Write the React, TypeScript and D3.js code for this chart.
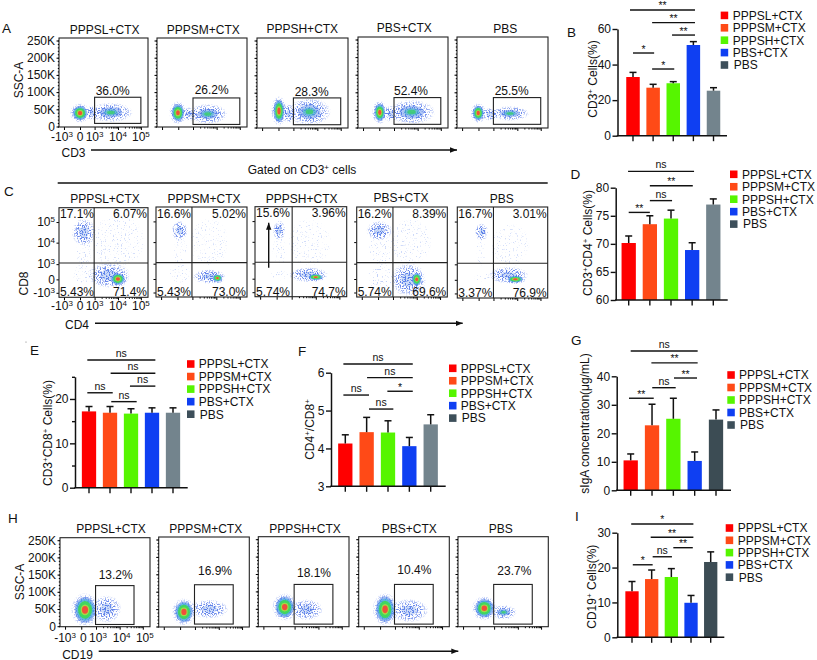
import { useEffect, useRef } from 'react';
import * as d3 from 'd3';

// groups and colours
const groups = ['PPPSL+CTX', 'PPPSM+CTX', 'PPPSH+CTX', 'PBS+CTX', 'PBS'];
const barColors = ['#ff0000', '#ff4a17', '#56f500', '#0f3ff2'];

// bar panels, values
const cd3Values = [33, 27, 29.5, 51, 25.3];
const cd3Errors = [35.6, 28.9, 30.4, 52.9, 27];
const cd3Sig = [[-0.15, 3.08, 70.7, '**'], [0.95, 3.08, 63.6, '**'], [1.94, 3.08, 56.6, '**'], [0, 1.05, 46.5, '*'], [0.95, 2.05, 37.5, '*']];

const cd4Values = [70.15, 73.5, 74.5, 68.9, 77];
const cd4Errors = [71.4, 75, 76, 70.2, 78];
const cd4Sig = [[-0.03, 3.09, 82.9, 'ns'], [1, 3.03, 80.35, '**'], [1, 2.05, 77.7, 'ns'], [0, 1, 75.6, '**']];

const cd8Values = [17.2, 16.9, 16.7, 16.9, 16.9];
const cd8Errors = [18.3, 18.3, 17.8, 18, 18];
const cd8Sig = [[-0.08, 3.16, 28.8, 'ns'], [1.03, 3.16, 25.8, 'ns'], [1.95, 3.16, 22.9, 'ns'], [-0.08, 1.13, 21.4, 'ns'], [1.06, 2.27, 19.4, 'ns']];

const ratioValues = [4.13, 4.43, 4.42, 4.06, 4.635];
const ratioErrors = [4.36, 4.82, 4.73, 4.29, 4.89];
const ratioSig = [[-0.09, 3.16, 6.23, 'ns'], [1.02, 3.16, 5.87, 'ns'], [1.97, 3.16, 5.51, '*'], [-0.09, 1.11, 5.41, 'ns'], [1.11, 2.25, 5.04, 'ns']];

const sigaValues = [10.5, 22.8, 25.1, 10.3, 24.8];
const sigaErrors = [12.75, 30.2, 32.3, 13.45, 28.2];
const sigaSig = [[0, 3.14, 48.9, 'ns'], [0.97, 3.14, 44.7, '**'], [2.03, 3.11, 39.4, '**'], [1.01, 2.11, 36, 'ns'], [-0.08, 1.08, 32.3, '**']];

const cd19Values = [13.2, 16.7, 17.3, 9.9, 21.6];
const cd19Errors = [16, 19.3, 19.7, 12, 24.5];
const cd19Sig = [[-0.04, 3.12, 32.5, '*'], [0.95, 3.12, 28.7, '**'], [2.1, 3.09, 25.7, '**'], [1.05, 2.03, 23.1, 'ns'], [0.04, 1.05, 20.8, '*']];

// flow plots: percentages
const cd3Pct = ['36.0%', '26.2%', '28.3%', '52.4%', '25.5%'];
const cd19Pct = ['13.2%', '16.9%', '18.1%', '10.4%', '23.7%'];
const quadTL = ['17.1%', '16.6%', '15.6%', '16.2%', '16.7%'];
const quadTR = ['6.07%', '5.02%', '3.96%', '8.39%', '3.01%'];
const quadBL = ['5.43%', '5.43%', '5.74%', '5.74%', '3.37%'];
const quadBR = ['71.4%', '73.0%', '74.7%', '69.6%', '76.9%'];

// gates in axis units: x0, x1 (decades), y0, y1 (K)
const cd3Gates = [[1, 3, 9, 85], [1, 3, 6, 83], [1, 3, 8, 85], [1, 3, 9, 85], [1, 3, 9, 85]];
const cd19Gates = [[0.97, 2.62, 5, 118], [0.97, 2.62, 7, 120], [0.97, 2.62, 6, 120], [0.97, 2.62, 6, 120], [0.97, 2.62, 6, 120]];
const quadCuts = [[0.97, 1.05], [0.97, 1.05], [1.02, 1.05], [1, 1.05], [1, 1.05]];

// population clouds: x0, x1, y0, y1 in axis units, peak density 0..1
const cd3Clouds = [
  [[-0.45, 0.5, 18, 60, 1], [1, 2.4, 20, 62, 0.55], [0.5, 1.1, 25, 55, 0.22]],
  [[-0.4, 0.4, 15, 65, 1], [1, 2.25, 15, 58, 0.5], [0.4, 1.1, 22, 50, 0.22]],
  [[-0.3, 0.4, 15, 80, 1], [1, 2.35, 15, 75, 0.5], [0.4, 1, 20, 60, 0.22]],
  [[-0.3, 0.4, 18, 68, 1], [1, 2.5, 18, 70, 0.7], [0.4, 1.1, 22, 55, 0.2]],
  [[-0.35, 0.35, 20, 62, 1], [1.1, 2.3, 25, 55, 0.55], [0.35, 1.1, 25, 50, 0.2]],
];
const cd4Cd8Clouds = [
  [[-0.3, 0.85, 2, 3, 0.3], [-0.2, 0.7, 1, 2.1, 0.08], [1, 3, 1, 3.2, 0.07], [-0.4, 0.8, -0.2, 0.9, 0.1], [0.9, 2.3, -0.4, 0.9, 0.22], [1.7, 2.3, -0.4, 0.4, 1]],
  [[-0.2, 0.5, 2.2, 2.9, 0.3], [-0.2, 0.6, 1, 2.2, 0.06], [1, 2.4, 1, 3, 0.05], [-0.4, 0.8, -0.2, 0.9, 0.08], [1.2, 2.2, -0.2, 0.5, 0.22], [1.85, 2.25, -0.2, 0.3, 1]],
  [[-0.1, 0.45, 2.2, 2.9, 0.3], [-0.2, 0.6, 1, 2.2, 0.06], [1, 2.5, 1, 3, 0.05], [-0.3, 0.9, -0.1, 0.5, 0.1], [1.1, 2.3, -0.1, 0.6, 0.22], [1.7, 2.3, -0.1, 0.3, 1]],
  [[-0.5, 0.7, 2.2, 2.9, 0.3], [-0.5, 0.9, 1, 2.3, 0.09], [1, 2.5, 1.1, 3, 0.09], [-0.5, 0.9, -0.8, 0.9, 0.14], [1.1, 2.2, -1, 0.8, 0.25], [1.8, 2.2, -0.5, 0.4, 1]],
  [[-0.1, 0.5, 2.2, 2.8, 0.32], [-0.1, 0.4, 1, 2.2, 0.06], [1, 2.4, 1, 2.8, 0.05], [-0.2, 0.7, -0.1, 0.4, 0.1], [1, 2.25, -0.1, 0.7, 0.22], [1.6, 2.25, -0.2, 0.25, 1]],
];
const cd19Clouds = [
  [[-0.4, 0.95, 10, 85, 1], [1, 1.9, 20, 80, 0.26]],
  [[-0.3, 0.85, 12, 72, 1], [1, 2.2, 30, 70, 0.28]],
  [[-0.25, 0.95, 25, 85, 1], [1, 2, 25, 70, 0.4]],
  [[-0.25, 0.95, 12, 85, 0.9], [1, 2.2, 20, 70, 0.2]],
  [[-0.25, 0.95, 25, 78, 1], [1, 1.8, 25, 55, 0.55]],
];

// log-axis fractions along a plot's width, from -10^3 to 10^5
const decadeTicks = [-1, 0, 1, 2, 3];
const decadeFracs = [0.056, 0.236, 0.4, 0.663, 0.92];
const cd8Fracs = [0.95, 0.8, 0.63, 0.39, 0.16];
const decadeLabels = ['-10^3', '0', '10^3', '10^4', '10^5'];
const sscTicks = [0, 50, 100, 150, 200, 250];

const FONT = '"Liberation Sans", Arial, sans-serif';

const withSup = (el: any, str: string, supSize = 8) => {
  el.text(null);
  str.split(/(\^.)/).filter(Boolean).forEach((part: string, i: number, all: string[]) => {
    const isSup = part[0] === '^';
    const prevSup = i > 0 && all[i - 1][0] === '^';
    const span = el.append('tspan').text(isSup ? part.slice(1) : part);
    if (isSup) span.attr('dy', -4).attr('font-size', supSize);
    else if (prevSup) span.attr('dy', 4);
  });
};

function label(g: any, x: number, y: number, str: string, anchor = 'middle', size = 12) {
  const t = g.append('text').attr('x', x).attr('y', y).attr('text-anchor', anchor)
    .attr('font-size', size).attr('fill', '#111');
  withSup(t, str);
  return t;
}

function cloudLayers(peak: number): [number, string, number][] {
  if (peak >= 0.8) {
    return [[1, '#4f7fe8', 0.55], [0.85, '#3fb0d8', 0.6], [0.68, '#3fd85a', 0.95], [0.42, '#c2df3c', 0.75], [0.3, '#f0503a', 1]];
  }
  if (peak >= 0.45) {
    return [[0.7, '#4f82e8', 0.45], [0.42, '#3fb2c8', 0.6], [0.24, '#3fd070', 0.85]];
  }
  return [[0.55, '#5f8fe8', 0.3]];
}

function drawClouds(g: any, clouds: number[][], xS: any, yS: any) {
  const geo = clouds.map(([x0, x1, y0, y1, peak]) => ({
    cx: (xS(x0) + xS(x1)) / 2, cy: (yS(y0) + yS(y1)) / 2,
    rx: Math.abs(xS(x1) - xS(x0)) / 2, ry: Math.abs(yS(y1) - yS(y0)) / 2, peak,
  }));
  const sparse = g.append('g').attr('filter', 'url(#speckleSparse)');
  const halo = g.append('g').attr('filter', 'url(#speckle)');
  const rings = g.append('g').attr('filter', 'url(#soft)');
  geo.forEach(b => {
    if (b.peak < 0.2) {
      sparse.append('ellipse').attr('cx', b.cx).attr('cy', b.cy).attr('rx', b.rx * 1.2).attr('ry', b.ry * 1.15)
        .attr('fill', 'url(#sparseFade)').attr('opacity', 0.35 + b.peak * 2);
      return;
    }
    halo.append('ellipse').attr('cx', b.cx).attr('cy', b.cy).attr('rx', b.rx * 1.3 + 1).attr('ry', b.ry * 1.25 + 1)
      .attr('fill', 'url(#halo)');
    cloudLayers(b.peak).forEach(([s, c, o]) => {
      rings.append('ellipse').attr('cx', b.cx).attr('cy', b.cy).attr('rx', b.rx * s).attr('ry', b.ry * s)
        .attr('fill', c).attr('opacity', o);
    });
  });
}

function flowFrame(svg: any, p: any, i: number, xS: any, yS: any, yTicks: number[], yFmt: (d: number) => string, xLabelY: number, xOffset: number) {
  const clipId = `clip-${p.id}-${i}`;
  svg.select('defs').append('clipPath').attr('id', clipId)
    .append('rect').attr('x', p.x).attr('y', p.t).attr('width', p.w).attr('height', p.b - p.t);

  // minor ticks first, then the labelled ones
  const minorX = decadeTicks.slice(2, 4).flatMap(d => d3.range(2, 10).map(m => d + Math.log10(m)));
  const gx = svg.append('g').attr('transform', `translate(0,${p.b})`);
  gx.call(d3.axisBottom(xS).tickValues(minorX).tickSize(1.5).tickSizeOuter(0).tickFormat(() => ''));
  gx.select('.domain').remove();
  const gx2 = svg.append('g').attr('transform', `translate(0,${p.b})`);
  gx2.call(d3.axisBottom(xS).tickValues(decadeTicks).tickSize(3).tickSizeOuter(0).tickFormat(() => ''));
  gx2.select('.domain').remove();
  if (i === 0) {
    decadeTicks.forEach((d, k) => label(svg, xS(d) + (k === 0 ? -2 : 0) + xOffset, xLabelY, decadeLabels[k]));
  }

  const gy = svg.append('g').attr('transform', `translate(${p.x},0)`);
  gy.call(d3.axisLeft(yS).tickValues(yTicks).tickSize(2.5).tickSizeOuter(0).tickPadding(1.5)
    .tickFormat((d: any) => (i === 0 ? yFmt(d) : '')));
  gy.select('.domain').remove();
  gy.selectAll('text').each(function (this: any, d: any) {
    if (i === 0) withSup(d3.select(this), yFmt(d));
  }).attr('font-size', 12).attr('font-family', FONT).attr('fill', '#111');

  svg.append('rect').attr('x', p.x).attr('y', p.t).attr('width', p.w).attr('height', p.b - p.t)
    .attr('fill', 'none').attr('stroke', '#222').attr('stroke-width', 1.1);
  return clipId;
}

function sscPanel(svg: any, id: string, plots: any[], clouds: number[][][], gates: number[][], pct: string[], pctPos: number[][], xLabelY: number, xOffset: number) {
  plots.forEach((raw, i) => {
    const p = { ...raw, id };
    const xS = d3.scaleLinear().domain(decadeTicks).range(decadeFracs.map(f => p.x + f * p.w));
    const yS = d3.scaleLinear().domain([0, 250]).range([p.b - 0.5, p.t + 2.5]);
    const fmt = (d: number) => (d === 0 ? '0' : `${d}K`);
    const clipId = flowFrame(svg, p, i, xS, yS, sscTicks, fmt, xLabelY, xOffset);
    const minorY = svg.append('g').attr('transform', `translate(${p.x},0)`);
    minorY.call(d3.axisLeft(yS).tickValues(d3.range(0, 251, 10)).tickSize(1.2).tickSizeOuter(0).tickFormat(() => ''));
    minorY.select('.domain').remove();
    drawClouds(svg.append('g').attr('clip-path', `url(#${clipId})`), clouds[i], xS, yS);
    const [x0, x1, y0, y1] = gates[i];
    svg.append('rect').attr('x', xS(x0)).attr('y', yS(y1)).attr('width', xS(x1) - xS(x0)).attr('height', yS(y0) - yS(y1))
      .attr('fill', 'none').attr('stroke', '#222').attr('stroke-width', 1.1);
    label(svg, pctPos[i][0], pctPos[i][1], pct[i]);
  });
}

function quadPanel(svg: any, plots: any[]) {
  plots.forEach((raw, i) => {
    const p = { ...raw, id: 'c' };
    const h = p.b - p.t;
    const xS = d3.scaleLinear().domain(decadeTicks).range(decadeFracs.map(f => p.x + f * p.w));
    const yS = d3.scaleLinear().domain(decadeTicks).range(cd8Fracs.map(f => p.t + f * h));
    const fmt = (d: number) => decadeLabels[decadeTicks.indexOf(d)];
    const clipId = flowFrame(svg, p, i, xS, yS, decadeTicks, fmt, 310, 0);
    drawClouds(svg.append('g').attr('clip-path', `url(#${clipId})`), cd4Cd8Clouds[i], xS, yS);
    const [vx, hy] = quadCuts[i];
    svg.append('line').attr('x1', xS(vx)).attr('x2', xS(vx)).attr('y1', p.t).attr('y2', p.b).attr('stroke', '#222').attr('stroke-width', 1.1);
    svg.append('line').attr('x1', p.x).attr('x2', p.x + p.w).attr('y1', yS(hy)).attr('y2', yS(hy)).attr('stroke', '#222').attr('stroke-width', 1.1);
    label(svg, p.x + 1, p.t + 10.5, quadTL[i], 'start');
    label(svg, p.x + p.w - 1, p.t + 10.5, quadTR[i], 'end');
    label(svg, p.x + 1, p.b - 1, quadBL[i], 'start');
    label(svg, p.x + p.w - 1, p.b - 1, quadBR[i], 'end');
  });
}

function barPanel(svg: any, cfg: any) {
  const { values, errors, sig, domain, ticks, minor, axisX, endX, bottom, top, c0, c4, barW, pbsColor } = cfg;
  const step = (c4 - c0) / 4;
  const x = d3.scaleBand().domain(groups).range([c0 - step / 2, c4 + step / 2])
    .paddingInner(1 - barW / step).paddingOuter((1 - barW / step) / 2);
  const y = d3.scaleLinear().domain(domain).range([bottom, top]);
  const pos = d3.scaleLinear().domain([0, 4]).range([c0, c4]);
  const colors = [...barColors, pbsColor];
  const g = svg.append('g');

  g.selectAll('rect.bar').data(values).enter().append('rect').attr('class', 'bar')
    .attr('x', (_: any, i: number) => x(groups[i]))
    .attr('y', (d: number) => y(d))
    .attr('width', x.bandwidth())
    .attr('height', (d: number) => bottom - y(d))
    .attr('fill', (_: any, i: number) => colors[i]);

  const errs = g.append('g').attr('stroke', '#111').attr('stroke-width', 1.5);
  errors.forEach((e: number, i: number) => {
    const cx = (x(groups[i]) as number) + x.bandwidth() / 2;
    errs.append('line').attr('x1', cx).attr('x2', cx).attr('y1', y(values[i])).attr('y2', y(e));
    errs.append('line').attr('x1', cx - 3.5).attr('x2', cx + 3.5).attr('y1', y(e)).attr('y2', y(e));
  });

  const styleAxis = (a: any) => {
    a.selectAll('line').attr('stroke', '#111').attr('stroke-width', 1.4);
    a.selectAll('path').attr('stroke', '#111').attr('stroke-width', 1.5);
    a.selectAll('text').attr('font-size', 12).attr('font-family', FONT).attr('fill', '#111');
  };
  const ya = g.append('g').attr('transform', `translate(${axisX},0)`);
  ya.call(d3.axisLeft(y).tickValues(ticks).tickSize(5).tickSizeOuter(0).tickPadding(1.5).tickFormat(d3.format('d')));
  styleAxis(ya);
  if (minor) {
    const ym = g.append('g').attr('transform', `translate(${axisX},0)`);
    ym.call(d3.axisLeft(y).tickValues(minor).tickSize(3).tickSizeOuter(0).tickFormat(() => ''));
    ym.select('.domain').remove();
    styleAxis(ym);
  }
  const xa = g.append('g').attr('transform', `translate(0,${bottom})`);
  xa.call(d3.axisBottom(x).tickSize(5.5).tickSizeOuter(0).tickFormat(() => ''));
  xa.select('.domain').remove();
  styleAxis(xa);
  g.append('line').attr('x1', axisX - 0.7).attr('x2', endX).attr('y1', bottom).attr('y2', bottom).attr('stroke', '#111').attr('stroke-width', 1.5);

  sig.forEach(([a, b, level, txt]: any) => {
    const yy = y(level);
    g.append('line').attr('x1', pos(a)).attr('x2', pos(b)).attr('y1', yy).attr('y2', yy).attr('stroke', '#111').attr('stroke-width', 1.4);
    label(g, (pos(a) + pos(b)) / 2, yy - (txt === 'ns' ? 3 : 0.5), txt, 'middle', 10.5);
  });

  const t = label(svg, 0, 0, cfg.yTitle);
  t.attr('transform', `translate(${cfg.titleX},${cfg.titleY}) rotate(-90)`);
}

function legend(svg: any, lx: number, ly: number, stepY: number, textX: number) {
  const swatch = [...barColors, '#3d4f5a'];
  groups.forEach((name, i) => {
    const yy = ly + i * stepY;
    svg.append('rect').attr('x', lx).attr('y', yy - 3.8).attr('width', 7.5).attr('height', 7.6).attr('fill', swatch[i]);
    label(svg, textX + (i === 4 ? 1 : 0), yy + 4.3, name, 'start');
  });
}

function arrow(svg: any, x1: number, y1: number, x2: number, y2: number) {
  svg.append('line').attr('x1', x1).attr('y1', y1).attr('x2', x2).attr('y2', y2)
    .attr('stroke', '#111').attr('stroke-width', 1.4).attr('marker-end', 'url(#head)');
}

export default function App() {
  const svgRef = useRef<SVGSVGElement>(null);

  useEffect(() => {
    const svg = d3.select(svgRef.current);
    svg.selectAll('*').remove();
    svg.attr('font-family', FONT);

    const defs = svg.append('defs');
    const speckle = (id: string, gain: number, cut: number) => {
      const f = defs.append('filter').attr('id', id).attr('x', '-5%').attr('y', '-5%').attr('width', '110%').attr('height', '110%')
        .attr('color-interpolation-filters', 'sRGB');
      f.append('feTurbulence').attr('type', 'fractalNoise').attr('baseFrequency', 0.75).attr('numOctaves', 1).attr('seed', 4).attr('result', 'n');
      f.append('feColorMatrix').attr('in', 'n').attr('type', 'matrix')
        .attr('values', `0 0 0 0 0  0 0 0 0 0  0 0 0 0 0  ${gain} 0 0 0 ${-cut}`).attr('result', 'm');
      f.append('feComposite').attr('in', 'SourceGraphic').attr('in2', 'm').attr('operator', 'in');
      f.append('feGaussianBlur').attr('stdDeviation', 0.35);
    };
    speckle('speckle', 9, 4.4);
    speckle('speckleSparse', 10, 6.1);
    defs.append('filter').attr('id', 'soft').append('feGaussianBlur').attr('stdDeviation', 0.7);

    const radial = (id: string, color: string, mid: number) => {
      const gr = defs.append('radialGradient').attr('id', id);
      gr.append('stop').attr('offset', '0%').attr('stop-color', color).attr('stop-opacity', 1);
      gr.append('stop').attr('offset', `${mid}%`).attr('stop-color', color).attr('stop-opacity', 0.8);
      gr.append('stop').attr('offset', '100%').attr('stop-color', color).attr('stop-opacity', 0);
    };
    radial('halo', '#4a6fe8', 60);
    radial('sparseFade', '#95aef2', 85);

    defs.append('marker').attr('id', 'head').attr('markerUnits', 'userSpaceOnUse')
      .attr('markerWidth', 9).attr('markerHeight', 7).attr('refX', 7).attr('refY', 3.5).attr('orient', 'auto')
      .append('path').attr('d', 'M0,0.8L7,3.5L0,6.2Z').attr('fill', '#111');

    // panel letters
    const letters: [string, number, number][] = [['A', 2, 33], ['B', 567, 37], ['C', 4, 196], ['D', 570.5, 178.5], ['E', 30, 355], ['F', 298, 355.5], ['G', 571, 345], ['H', 8, 523], ['I', 575, 521]];
    letters.forEach(([s, x, y]) => label(svg, x, y, s, 'start', 13.5));

    // A
    const aPlots = [
      { x: 59, w: 89, t: 38, b: 127 }, { x: 157, w: 90, t: 38, b: 127 }, { x: 257, w: 91, t: 38, b: 128 },
      { x: 358, w: 90, t: 37, b: 128 }, { x: 457, w: 91, t: 37, b: 128 },
    ];
    const aTitles = [[104.7, 33.5], [203.3, 33.5], [302.3, 33], [404.3, 31.5], [505.3, 33]];
    aTitles.forEach(([x, y], i) => label(svg, x, y, groups[i]));
    sscPanel(svg, 'a', aPlots, cd3Clouds, cd3Gates, cd3Pct, [[112.7, 94.7], [211.7, 94], [311.7, 96], [411, 95], [511.7, 95]], 141, 0);
    const ssc = label(svg, 0, 0, 'SSC-A');
    ssc.attr('transform', 'translate(23,80) rotate(-90)');
    label(svg, 73.5, 156.5, 'CD3');
    arrow(svg, 91, 150, 457, 150);

    // C
    label(svg, 302, 174, 'Gated on CD3^+ cells');
    svg.append('line').attr('x1', 57.7).attr('x2', 547.7).attr('y1', 183).attr('y2', 183).attr('stroke', '#111').attr('stroke-width', 1.5);
    const cPlots = [
      { x: 59, w: 89, t: 207.7, b: 297.3 }, { x: 156, w: 91, t: 207, b: 297 }, { x: 255, w: 91.7, t: 206.7, b: 296.7 },
      { x: 356.7, w: 90.6, t: 207, b: 297 }, { x: 457.3, w: 90.4, t: 207, b: 298 },
    ];
    const cTitles = [[105, 203], [204, 203], [301.7, 203], [401, 202], [501.7, 203]];
    cTitles.forEach(([x, y], i) => label(svg, x, y, groups[i]));
    quadPanel(svg, cPlots);
    const cd8 = label(svg, 0, 0, 'CD8');
    cd8.attr('transform', 'translate(28,283.5) rotate(-90)');
    label(svg, 77, 328.5, 'CD4');
    arrow(svg, 95, 323.3, 462.7, 323.3);
    arrow(svg, 268.7, 267.7, 268.7, 222.7);

    // H
    const hPlots = [
      { x: 60, w: 90, t: 537.7, b: 626.7 }, { x: 158.7, w: 90.6, t: 537, b: 627 }, { x: 258.3, w: 90.7, t: 536.7, b: 626.7 },
      { x: 358.7, w: 90.6, t: 536.7, b: 626.7 }, { x: 458, w: 90.3, t: 536.7, b: 626.7 },
    ];
    const hTitles = [[111, 533.3], [205.7, 533.3], [305, 533.3], [409.3, 533.3], [500.7, 533.3]];
    hTitles.forEach(([x, y], i) => label(svg, x, y, groups[i]));
    sscPanel(svg, 'h', hPlots, cd19Clouds, cd19Gates, cd19Pct, [[115.7, 579.3], [215, 575], [314, 576.7], [414.3, 574.3], [514.3, 575]], 642.3, 2);
    const sscH = label(svg, 0, 0, 'SSC-A');
    sscH.attr('transform', 'translate(24,582) rotate(-90)');
    label(svg, 77.5, 658.5, 'CD19');
    arrow(svg, 98.7, 651.2, 458.3, 651.2);

    // bars
    const grayBar = '#73848d';
    const darkBar = '#3c4c54';
    barPanel(svg, { values: cd3Values, errors: cd3Errors, sig: cd3Sig, domain: [0, 60], ticks: [0, 20, 40, 60], axisX: 617.5, endX: 727, bottom: 135.7, top: 29, c0: 633, c4: 713.5, barW: 13.5, pbsColor: grayBar, yTitle: 'CD3^+ Cells(%)', titleX: 597, titleY: 79 });
    legend(svg, 720.7, 15.4, 12.4, 732.7);
    barPanel(svg, { values: cd4Values, errors: cd4Errors, sig: cd4Sig, domain: [60, 80], ticks: [60, 65, 70, 75, 80], axisX: 615.7, endX: 727.7, bottom: 300, top: 187.7, c0: 628.7, c4: 713.3, barW: 14.3, pbsColor: grayBar, yTitle: 'CD3^+CD4^+ Cells(%)', titleX: 592, titleY: 243 });
    legend(svg, 730, 174.3, 12.45, 742);
    barPanel(svg, { values: cd8Values, errors: cd8Errors, sig: cd8Sig, domain: [0, 25], ticks: [0, 10, 20], minor: [5, 15, 25], axisX: 75, endX: 187.7, bottom: 487.7, top: 376.8, c0: 89, c4: 173, barW: 14.3, pbsColor: grayBar, yTitle: 'CD3^+CD8^+ Cells(%)', titleX: 52, titleY: 433 });
    legend(svg, 187, 364, 12.55, 198.7);
    barPanel(svg, { values: ratioValues, errors: ratioErrors, sig: ratioSig, domain: [3, 6], ticks: [3, 4, 5, 6], axisX: 331, endX: 445.7, bottom: 486.3, top: 372.7, c0: 345.3, c4: 430.7, barW: 14.3, pbsColor: grayBar, yTitle: 'CD4^+/CD8^+', titleX: 313.5, titleY: 429.5 });
    legend(svg, 449, 368.3, 12.45, 460.7);
    barPanel(svg, { values: sigaValues, errors: sigaErrors, sig: sigaSig, domain: [0, 40], ticks: [0, 10, 20, 30, 40], axisX: 616.7, endX: 731, bottom: 490.3, top: 376.3, c0: 630.7, c4: 716, barW: 14.3, pbsColor: darkBar, yTitle: 'sIgA concentration(μg/mL)', titleX: 588.5, titleY: 423.5 });
    legend(svg, 727.3, 375, 12.5, 739);
    barPanel(svg, { values: cd19Values, errors: cd19Errors, sig: cd19Sig, domain: [0, 30], ticks: [0, 10, 20, 30], axisX: 617.3, endX: 724.3, bottom: 637.3, top: 532.7, c0: 632, c4: 710.7, barW: 13.3, pbsColor: darkBar, yTitle: 'CD19^+ Cells(%)', titleX: 596, titleY: 586.7 });
    legend(svg, 725.7, 528, 12.3, 737.7);

    svg.append('circle').attr('cx', 26).attr('cy', 342).attr('r', 0.6).attr('fill', '#777');
  }, []);

  return <svg ref={svgRef} width={817} height={660} style={{ position: 'absolute', left: 0, top: 0, display: 'block' }} />;
}
